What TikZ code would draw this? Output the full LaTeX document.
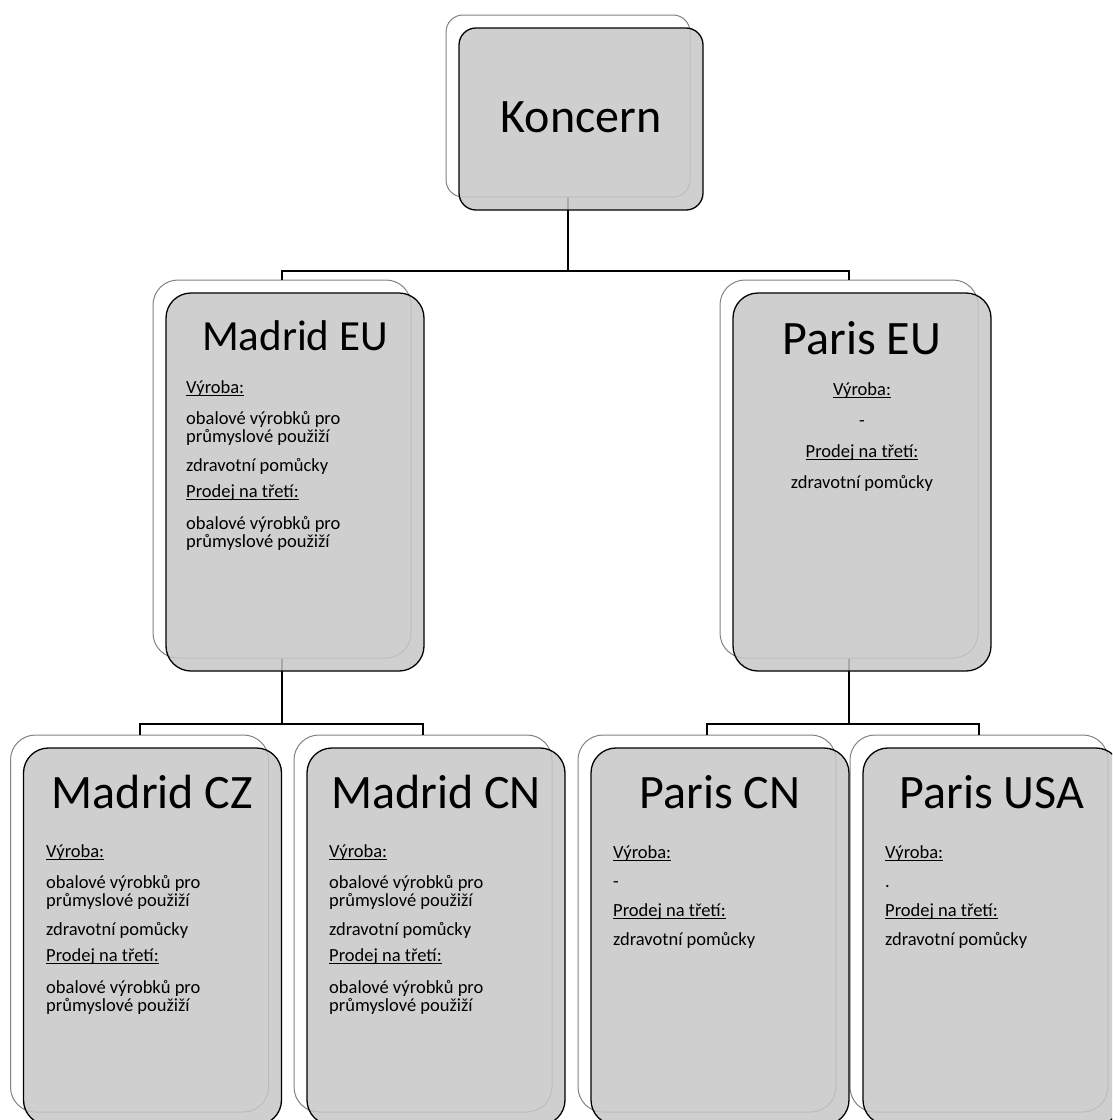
\documentclass[tikz,border=0pt]{standalone}
\usepackage{fontspec}
\setmainfont{Carlito}
\definecolor{boxfill}{RGB}{199,199,199}
\definecolor{backline}{RGB}{130,130,130}
\newcommand\myul[1]{\setbox0=\hbox{#1}\rlap{\rule[-2.7pt]{\wd0}{0.9pt}}\box0}
\begin{document}
\begin{tikzpicture}[x=1pt,y=-1pt,
  backbox/.style={rectangle, draw=backline, fill=white, line width=1pt, inner sep=0pt,
    minimum width=258pt, minimum height=378pt, rounded corners=25pt},
  frontbox/.style={rectangle, draw=black, line width=1.3pt, fill=boxfill, fill opacity=0.85,
    draw opacity=1, inner sep=0pt, minimum width=258pt, minimum height=378pt, rounded corners=25pt},
  conn/.style={draw=black, line width=2pt, line join=miter},
  head/.style={anchor=base, inner sep=0pt, font=\fontsize{48}{58}\selectfont},
  body/.style={anchor=base west, inner sep=0pt, font=\fontsize{18.5}{22}\selectfont},
  bodyc/.style={anchor=base, inner sep=0pt, font=\fontsize{18.5}{22}\selectfont}]
\useasboundingbox (0,0) rectangle (1112,1120);
\clip (0,0) rectangle (1112,1120);

% back boxes
\node[backbox, minimum width=244pt, minimum height=182pt, rounded corners=17pt] (kB) at (568,106) {};
\node[backbox] (meB) at (282,469) {};
\node[backbox] (peB) at (849,469) {};
\node[backbox, minimum height=377pt] (mczB) at (139.5,923.5) {};
\node[backbox, minimum height=377pt] (mcnB) at (423,923.5) {};
\node[backbox, minimum height=377pt] (pcnB) at (707,923.5) {};
\node[backbox, minimum height=377pt] (pusB) at (979,923.5) {};

% connectors
\coordinate (j1) at (568,271);
\coordinate (j2) at (282,724);
\coordinate (j3) at (849,724);
\draw[conn] (kB.south) -- (j1);
\draw[conn] (meB.north) |- (j1) -| (peB.north);
\draw[conn] (meB.south) -- (j2);
\draw[conn] (mczB.north) |- (j2) -| (mcnB.north);
\draw[conn] (peB.south) -- (j3);
\draw[conn] (pcnB.north) |- (j3) -| (pusB.north);

% front boxes
\node[frontbox, minimum width=244pt, minimum height=182pt, rounded corners=17pt] (kF) at (581,119) {};
\node[frontbox] (meF) at (295,482) {};
\node[frontbox] (peF) at (862,482) {};
\node[frontbox, minimum height=377pt] (mczF) at (152.5,936.5) {};
\node[frontbox, minimum height=377pt] (mcnF) at (436,936.5) {};
\node[frontbox, minimum height=377pt] (pcnF) at (720,936.5) {};
\node[frontbox, minimum height=377pt] (pusF) at (992,936.5) {};

% headings
\node[head] (kT) at (581,132) {Koncern};
\node[head, font=\fontsize{43}{52}\selectfont] (meT) at (295,350) {Madrid EU};
\node[head] (peT) at (862,354) {Paris EU};
\node[head] (mczT) at (152.5,808) {Madrid CZ};
\node[head] (mcnT) at (436,808) {Madrid CN};
\node[head] (pcnT) at (720,808) {Paris CN};
\node[head] (pusT) at (992,808) {Paris USA};

% Madrid EU text
\node[body] (me1) at (186,393) {\myul{Výroba:}};
\node[body] (me2) at (186,424) {obalové výrobků pro};
\node[body] (me3) at (186,442.5) {průmyslové použiží};
\node[body] (me4) at (186,471) {zdravotní pomůcky};
\node[body] (me5) at (186,497) {\myul{Prodej na třetí:}};
\node[body] (me6) at (186,529) {obalové výrobků pro};
\node[body] (me7) at (186,547.5) {průmyslové použiží};

% Paris EU text
\node[bodyc] (pe1) at (862,395) {\myul{Výroba:}};
\node[bodyc] (pe2) at (862,426) {-};
\node[bodyc] (pe3) at (862,457) {\myul{Prodej na třetí:}};
\node[bodyc] (pe4) at (862,488) {zdravotní pomůcky};

% Madrid CZ text
\node[body] (mcz1) at (46,857) {\myul{Výroba:}};
\node[body] (mcz2) at (46,888) {obalové výrobků pro};
\node[body] (mcz3) at (46,906.5) {průmyslové použiží};
\node[body] (mcz4) at (46,935) {zdravotní pomůcky};
\node[body] (mcz5) at (46,961) {\myul{Prodej na třetí:}};
\node[body] (mcz6) at (46,993) {obalové výrobků pro};
\node[body] (mcz7) at (46,1011.5) {průmyslové použiží};

% Madrid CN text
\node[body] (mcn1) at (329,857) {\myul{Výroba:}};
\node[body] (mcn2) at (329,888) {obalové výrobků pro};
\node[body] (mcn3) at (329,906.5) {průmyslové použiží};
\node[body] (mcn4) at (329,935) {zdravotní pomůcky};
\node[body] (mcn5) at (329,961) {\myul{Prodej na třetí:}};
\node[body] (mcn6) at (329,993) {obalové výrobků pro};
\node[body] (mcn7) at (329,1011.5) {průmyslové použiží};

% Paris CN text
\node[body] (pcn1) at (613,858) {\myul{Výroba:}};
\node[body] (pcn2) at (613,887) {-};
\node[body] (pcn3) at (613,916) {\myul{Prodej na třetí:}};
\node[body] (pcn4) at (613,945) {zdravotní pomůcky};

% Paris USA text
\node[body] (pus1) at (885,858) {\myul{Výroba:}};
\node[body] (pus2) at (885,887) {.};
\node[body] (pus3) at (885,916) {\myul{Prodej na třetí:}};
\node[body] (pus4) at (885,945) {zdravotní pomůcky};
\end{tikzpicture}
\end{document}
